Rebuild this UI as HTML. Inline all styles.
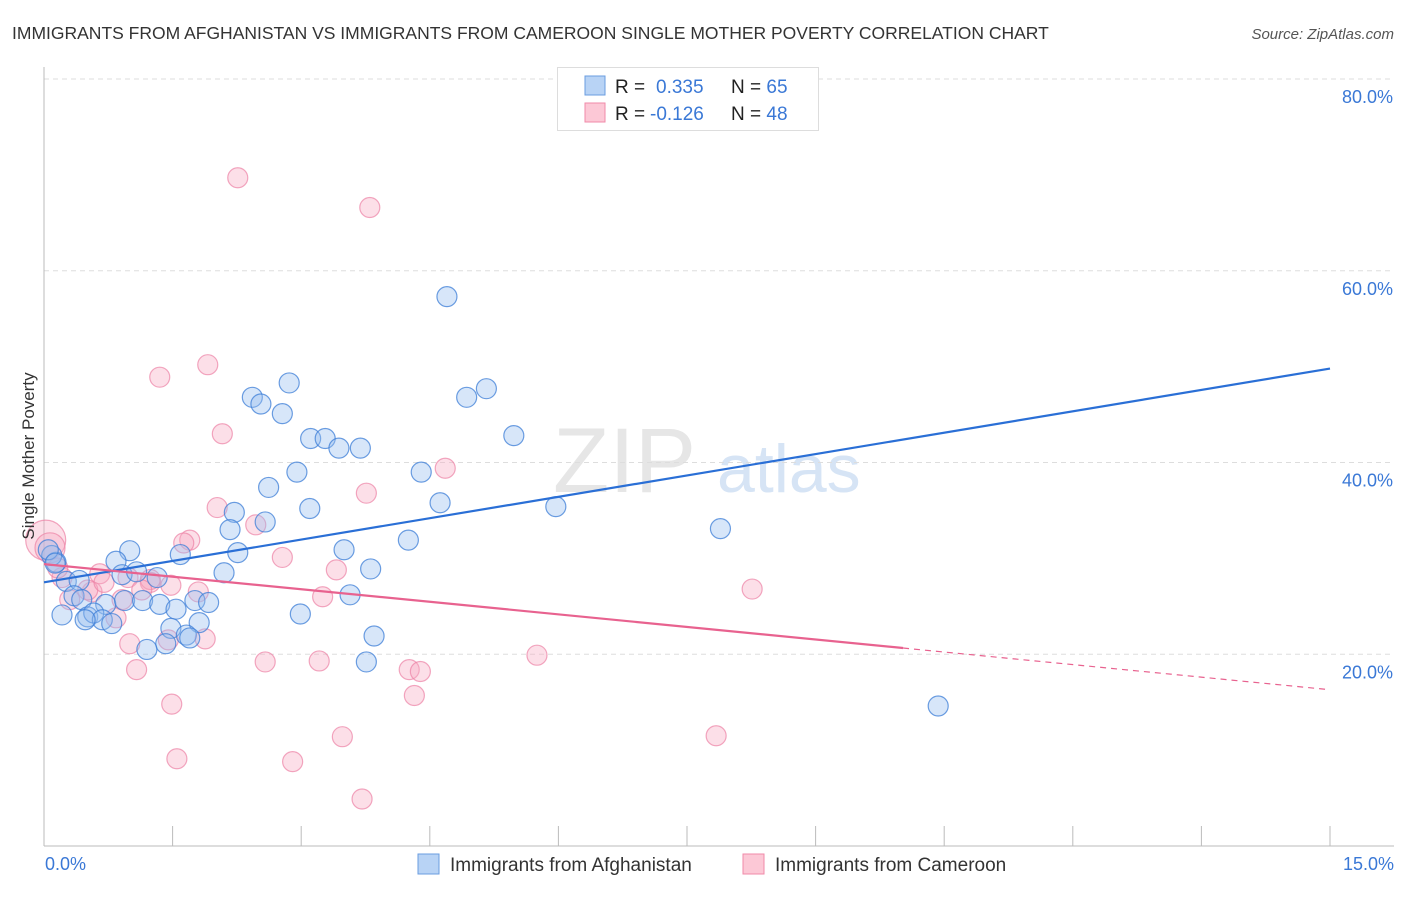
<!DOCTYPE html>
<html><head><meta charset="utf-8"><style>
body{margin:0;background:#fff;font-family:"Liberation Sans",sans-serif;}
svg text{font-family:"Liberation Sans",sans-serif;}
</style></head><body>
<svg id="chart" width="1406" height="892" xmlns="http://www.w3.org/2000/svg">
<text x="12" y="39" font-size="17.5" fill="#333">IMMIGRANTS FROM AFGHANISTAN VS IMMIGRANTS FROM CAMEROON SINGLE MOTHER POVERTY CORRELATION CHART</text>
<text x="1394" y="39" font-size="15" fill="#555" font-style="italic" text-anchor="end">Source: ZipAtlas.com</text>
<g>
<text x="553" y="492" font-size="92" fill="#e6e6e6" font-family="Liberation Serif">ZIP</text>
<text x="717" y="492" font-size="68" fill="#d6e4f5">atlas</text>
</g>
<g id="grid"></g><g id="axes"></g><g id="pts"></g><g id="trend"></g>
<text x="34" y="456" font-size="17" fill="#333" text-anchor="middle" transform="rotate(-90 34 456)">Single Mother Poverty</text>
<g>
<rect x="557.5" y="67.5" width="261" height="63" fill="#fff" stroke="#ddd"/>
<rect x="585" y="76" width="20" height="19" fill="#b8d3f5" stroke="#6a9de0"/>
<rect x="585" y="103" width="20" height="19" fill="#fcc8d6" stroke="#f08aa8"/>
<text x="615" y="93" font-size="19" fill="#222">R = <tspan x="656" fill="#3a78d6">0.335</tspan></text>
<text x="731" y="93" font-size="19" fill="#222">N = <tspan fill="#3a78d6">65</tspan></text>
<text x="615" y="120" font-size="19" fill="#222">R = <tspan x="650" fill="#3a78d6">-0.126</tspan></text>
<text x="731" y="120" font-size="19" fill="#222">N = <tspan fill="#3a78d6">48</tspan></text>
</g>
<g>
<rect x="418" y="854" width="21" height="20" fill="#b8d3f5" stroke="#6a9de0"/>
<text x="450" y="871" font-size="19" fill="#333">Immigrants from Afghanistan</text>
<rect x="743" y="854" width="21" height="20" fill="#fcc8d6" stroke="#f08aa8"/>
<text x="775" y="871" font-size="19" fill="#333">Immigrants from Cameroon</text>
</g>
</svg>
<script>
const xTicks=[0,1.5,3,4.5,6,7.5,9,10.5,12,13.5,15];
const yTicks=[20,40,60,80];
const yTickLabels=["20.0%","40.0%","60.0%","80.0%"];
const xEndLabels=["0.0%","15.0%"];
const blueX=[4.70,2.86,2.43,2.53,2.78,5.16,4.93,5.48,3.11,3.28,3.44,3.69,2.95,4.40,2.62,4.62,5.97,3.10,2.22,2.58,2.17,7.89,4.25,1.00,0.84,1.59,2.26,3.50,3.81,2.10,0.91,1.08,1.32,0.26,0.14,0.09,0.41,0.35,0.44,0.72,0.94,1.15,1.35,1.54,1.76,1.92,3.57,0.21,0.51,0.58,0.68,0.79,1.48,1.81,1.66,1.70,1.42,1.20,2.99,3.85,3.76,10.43,0.05,0.13,0.48];
const blueY=[57.3,48.3,46.8,46.1,45.1,47.7,46.8,42.8,42.5,42.5,41.5,41.5,39.0,39.0,37.4,35.8,35.4,35.2,34.8,33.8,33.0,33.1,31.9,30.8,29.7,30.4,30.6,30.9,28.9,28.5,28.3,28.6,28.0,27.6,29.6,30.3,27.7,26.1,25.7,25.2,25.6,25.6,25.2,24.7,25.6,25.4,26.2,24.1,23.9,24.3,23.6,23.2,22.7,23.3,22.0,21.7,21.1,20.5,24.2,21.9,19.2,14.6,30.9,29.5,23.6];
const pinkX=[2.26,3.80,1.91,1.35,2.08,4.68,3.76,2.02,2.47,1.70,1.63,2.78,3.41,0.65,0.98,1.24,0.21,0.30,0.56,0.84,0.51,0.91,1.80,1.48,3.25,8.26,0.02,0.07,0.70,1.24,1.00,1.45,1.88,1.08,2.58,3.21,4.26,4.39,5.75,4.32,1.49,3.48,7.84,1.55,2.90,3.71,0.16,1.14];
const pinkY=[69.7,66.6,50.2,48.9,43.0,39.4,36.8,35.3,33.5,31.9,31.6,30.1,28.8,28.4,28.0,27.5,28.0,25.7,26.5,23.8,26.7,25.7,26.5,27.2,26.0,26.8,31.9,31.1,27.5,27.8,21.1,21.5,21.6,18.4,19.2,19.3,18.4,18.2,19.9,15.7,14.8,11.4,11.5,9.1,8.8,4.9,29.0,26.7];
const pinkSize=[10,10,10,10,10,10,10,10,10,10,10,10,10,10,10,10,10,10,10,10,10,10,10,10,10,10,20,15,10,10,10,10,10,10,10,10,10,10,10,10,10,10,10,10,10,10,10,10];
const blueTrend=[0,27.5,15,49.8];
const pinkTrend=[0,29.4,15,16.3];
const pinkSolidEnd=10.02;

const X0=44,X1=1330,Y0=846,Y80=79;
const sx=v=>X0+(v/15)*(X1-X0);
const sy=v=>Y0-(v/80)*(Y0-Y80);
const NS="http://www.w3.org/2000/svg";
function mk(tag,parent,attrs){const e=document.createElementNS(NS,tag);for(const k in attrs)e.setAttribute(k,attrs[k]);document.getElementById(parent).appendChild(e);return e;}

yTicks.forEach((t,i)=>{
 const g=mk('line','grid',{x1:X0,x2:1394,y1:sy(t),y2:sy(t),stroke:'#ddd','stroke-dasharray':'5,4'});
 
 
 const tx=mk('text','axes',{x:1393,y:sy(t)+24,'font-size':18,fill:'#3a78d6','text-anchor':'end'});
 tx.textContent=yTickLabels[i];
 
 
});
const ax=mk('line','axes',{x1:X0,x2:X0,y1:67,y2:Y0,stroke:'#bbb'});


const bx=mk('line','axes',{x1:X0,x2:1394,y1:Y0,y2:Y0,stroke:'#bbb'});


xTicks.forEach(t=>{
 const l=mk('line','axes',{x1:sx(t),x2:sx(t),y1:826,y2:Y0,stroke:'#bbb'});
 
 
});
[[0,'start',45],[15,'end',1394]].forEach((d,i)=>{
 const t=mk('text','axes',{x:d[2],y:870,'font-size':18,fill:'#3a78d6','text-anchor':d[1]});
 t.textContent=xEndLabels[i];
 
 
});
pinkX.forEach((x,i)=>{
 const c=mk('circle','pts',{cx:sx(x),cy:sy(pinkY[i]),r:pinkSize[i],fill:'rgba(248,170,195,0.38)',stroke:'rgba(236,130,165,0.7)','stroke-width':1.2});
 
 
});
blueX.forEach((x,i)=>{
 const c=mk('circle','pts',{cx:sx(x),cy:sy(blueY[i]),r:10,fill:'rgba(150,190,240,0.38)',stroke:'rgba(60,125,215,0.75)','stroke-width':1.2});
 
 
});
const bl=mk('line','trend',{x1:sx(blueTrend[0]),y1:sy(blueTrend[1]),x2:sx(blueTrend[2]),y2:sy(blueTrend[3]),stroke:'#2a6fd6','stroke-width':2.2});


const pAt=x=>pinkTrend[1]+(pinkTrend[3]-pinkTrend[1])*(x-pinkTrend[0])/(pinkTrend[2]-pinkTrend[0]);
const pl=mk('line','trend',{x1:sx(pinkTrend[0]),y1:sy(pinkTrend[1]),x2:sx(pinkSolidEnd),y2:sy(pAt(pinkSolidEnd)),stroke:'#e8628f','stroke-width':2.2});


const pd=mk('line','trend',{x1:sx(pinkSolidEnd),y1:sy(pAt(pinkSolidEnd)),x2:sx(pinkTrend[2]),y2:sy(pinkTrend[3]),stroke:'#e8628f','stroke-width':1.2,'stroke-dasharray':'6,5'});


</script>
</body></html>
